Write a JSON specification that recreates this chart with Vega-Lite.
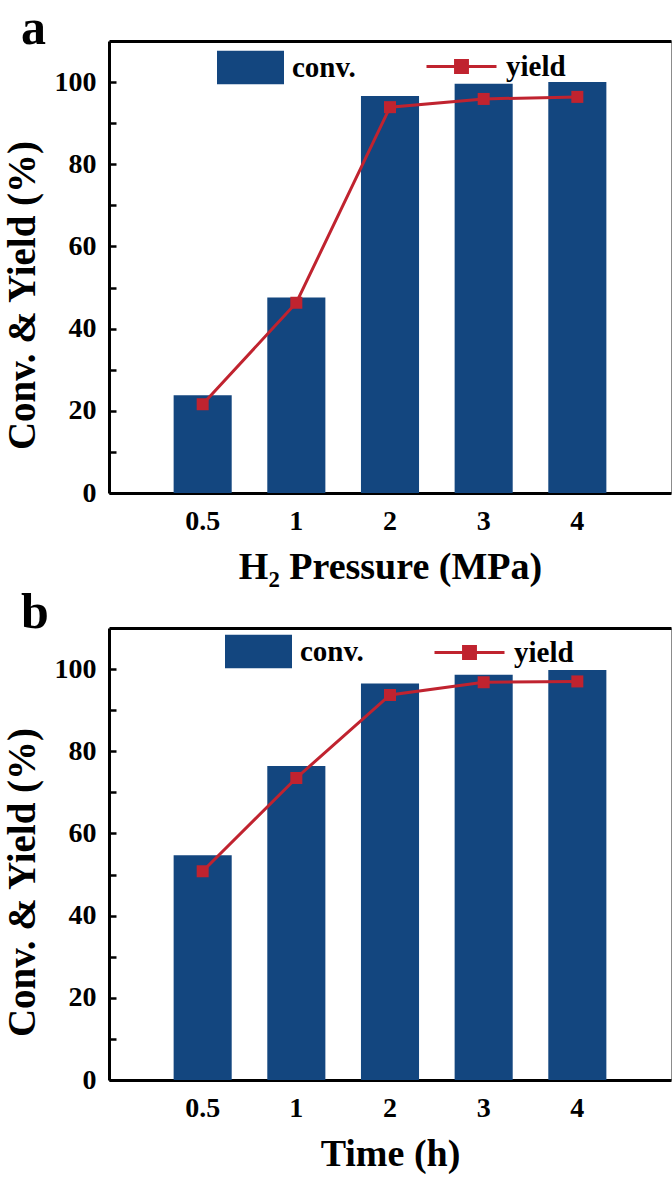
{
  "$schema": "https://vega.github.io/schema/vega-lite/v6.json",
  "background": "white",
  "autosize": {"type": "pad"},
  "padding": {"left": 2, "top": 3, "right": 0, "bottom": 0},
  "datasets": {
    "pressure": [
      {"x": "0.5", "conv": 23.8, "yield": 21.6},
      {"x": "1", "conv": 47.6, "yield": 46.3},
      {"x": "2", "conv": 96.6, "yield": 93.9},
      {"x": "3", "conv": 99.6, "yield": 95.9},
      {"x": "4", "conv": 100.0, "yield": 96.4}
    ],
    "time": [
      {"x": "0.5", "conv": 54.7, "yield": 50.8},
      {"x": "1", "conv": 76.4, "yield": 73.5},
      {"x": "2", "conv": 96.5, "yield": 93.7},
      {"x": "3", "conv": 98.6, "yield": 96.8},
      {"x": "4", "conv": 99.8, "yield": 97.0}
    ]
  },
  "config": {
    "font": "Times New Roman, Liberation Serif, serif",
    "view": {"stroke": "#8c8c8c", "strokeWidth": 1},
    "axis": {
      "labelFont": "Times New Roman, Liberation Serif, serif",
      "labelFontWeight": "bold",
      "labelFontSize": 28,
      "labelColor": "black",
      "titleFont": "Times New Roman, Liberation Serif, serif",
      "titleFontWeight": "bold",
      "titleFontSize": 38,
      "titleColor": "black",
      "domainColor": "black",
      "domainWidth": 3,
      "tickColor": "black",
      "tickWidth": 2.5,
      "grid": false
    },
    "legend": {
      "labelFont": "Times New Roman, Liberation Serif, serif",
      "labelFontWeight": "bold",
      "labelFontSize": 29,
      "labelColor": "black",
      "padding": 0,
      "labelOffset": 8,
      "rowPadding": 0
    },
    "title": {
      "font": "Times New Roman, Liberation Serif, serif",
      "fontWeight": "bold",
      "fontSize": 50,
      "color": "black",
      "anchor": "start",
      "frame": "group"
    }
  },
  "spacing": 0,
  "resolve": {
    "scale": {"fill": "independent", "stroke": "independent"},
    "legend": {"fill": "independent", "stroke": "independent"}
  },
  "vconcat": [
    {
      "width": 562,
      "height": 452,
      "title": {"text": "a", "dx": -88, "offset": -24},
      "data": {"name": "pressure"},
      "layer": [
        {
          "mark": {"type": "bar"},
          "encoding": {
            "x": {
              "field": "x", "type": "nominal", "sort": null,
              "scale": {"type": "band", "paddingInner": 0.38, "paddingOuter": 0.69},
              "axis": {"orient": "bottom", "title": "H₂ Pressure (MPa)", "ticks": false, "labelAngle": 0, "labelPadding": 14, "titlePadding": 13}
            },
            "y": {
              "field": "conv", "type": "quantitative",
              "scale": {"domain": [0, 110], "nice": false, "zero": true},
              "axis": {
                "title": "Conv. & Yield (%)",
                "titleFontSize": 39,
                "titleY": 254,
                "values": [0, 10, 20, 30, 40, 50, 60, 70, 80, 90, 100],
                "labelExpr": "datum.value % 20 === 0 ? datum.label : ''",
                "tickSize": -7,
                "labelPadding": 20,
                "titlePadding": 12
              }
            },
            "fill": {
              "datum": "conv.",
              "scale": {"range": ["#13467f"]},
              "legend": {"orient": "none", "legendX": 108, "legendY": -7, "title": null, "symbolType": "M-1,-0.5H1V0.5H-1Z", "symbolSize": 4489, "symbolStrokeWidth": 0}
            }
          }
        },
        {
          "mark": {"type": "line", "strokeWidth": 3},
          "encoding": {
            "x": {"field": "x", "type": "nominal", "sort": null, "axis": {"orient": "top", "labels": false, "ticks": false, "title": null}},
            "y": {"field": "yield", "type": "quantitative"},
            "stroke": {
              "datum": "yield",
              "scale": {"range": ["#c0232f"]},
              "legend": {
                "orient": "none", "legendX": 316, "legendY": -11, "title": null,
                "symbolType": "M-1,0H1M-0.17,-0.17H0.17V0.17H-0.17Z", "symbolSize": 4900,
                "encode": {"symbols": {"update": {"fill": {"value": "#c0232f"}, "stroke": {"value": "#c0232f"}, "strokeWidth": {"value": 3}, "opacity": {"value": 1}}}}
              }
            }
          }
        },
        {
          "mark": {"type": "point", "shape": "square", "filled": true, "size": 144, "color": "#c0232f", "opacity": 1},
          "encoding": {
            "x": {"field": "x", "type": "nominal", "sort": null, "axis": null},
            "y": {"field": "yield", "type": "quantitative"}
          }
        }
      ],
      "resolve": {"axis": {"x": "independent"}}
    },
    {
      "width": 562,
      "height": 452,
      "title": {"text": "b", "dx": -88, "offset": -22},
      "data": {"name": "time"},
      "layer": [
        {
          "mark": {"type": "bar"},
          "encoding": {
            "x": {
              "field": "x", "type": "nominal", "sort": null,
              "scale": {"type": "band", "paddingInner": 0.38, "paddingOuter": 0.69},
              "axis": {"orient": "bottom", "title": "Time (h)", "ticks": false, "labelAngle": 0, "labelPadding": 14, "titlePadding": 13}
            },
            "y": {
              "field": "conv", "type": "quantitative",
              "scale": {"domain": [0, 110], "nice": false, "zero": true},
              "axis": {
                "title": "Conv. & Yield (%)",
                "titleFontSize": 39,
                "titleY": 254,
                "values": [0, 10, 20, 30, 40, 50, 60, 70, 80, 90, 100],
                "labelExpr": "datum.value % 20 === 0 ? datum.label : ''",
                "tickSize": -7,
                "labelPadding": 20,
                "titlePadding": 12
              }
            },
            "fill": {
              "datum": "conv.",
              "scale": {"range": ["#13467f"]},
              "legend": {"orient": "none", "legendX": 116, "legendY": -10, "title": null, "symbolType": "M-1,-0.5H1V0.5H-1Z", "symbolSize": 4489, "symbolStrokeWidth": 0}
            }
          }
        },
        {
          "mark": {"type": "line", "strokeWidth": 3},
          "encoding": {
            "x": {"field": "x", "type": "nominal", "sort": null, "axis": {"orient": "top", "labels": false, "ticks": false, "title": null}},
            "y": {"field": "yield", "type": "quantitative"},
            "stroke": {
              "datum": "yield",
              "scale": {"range": ["#c0232f"]},
              "legend": {
                "orient": "none", "legendX": 324, "legendY": -12, "title": null,
                "symbolType": "M-1,0H1M-0.17,-0.17H0.17V0.17H-0.17Z", "symbolSize": 4900,
                "encode": {"symbols": {"update": {"fill": {"value": "#c0232f"}, "stroke": {"value": "#c0232f"}, "strokeWidth": {"value": 3}, "opacity": {"value": 1}}}}
              }
            }
          }
        },
        {
          "mark": {"type": "point", "shape": "square", "filled": true, "size": 144, "color": "#c0232f", "opacity": 1},
          "encoding": {
            "x": {"field": "x", "type": "nominal", "sort": null, "axis": null},
            "y": {"field": "yield", "type": "quantitative"}
          }
        }
      ],
      "resolve": {"axis": {"x": "independent"}}
    }
  ]
}
